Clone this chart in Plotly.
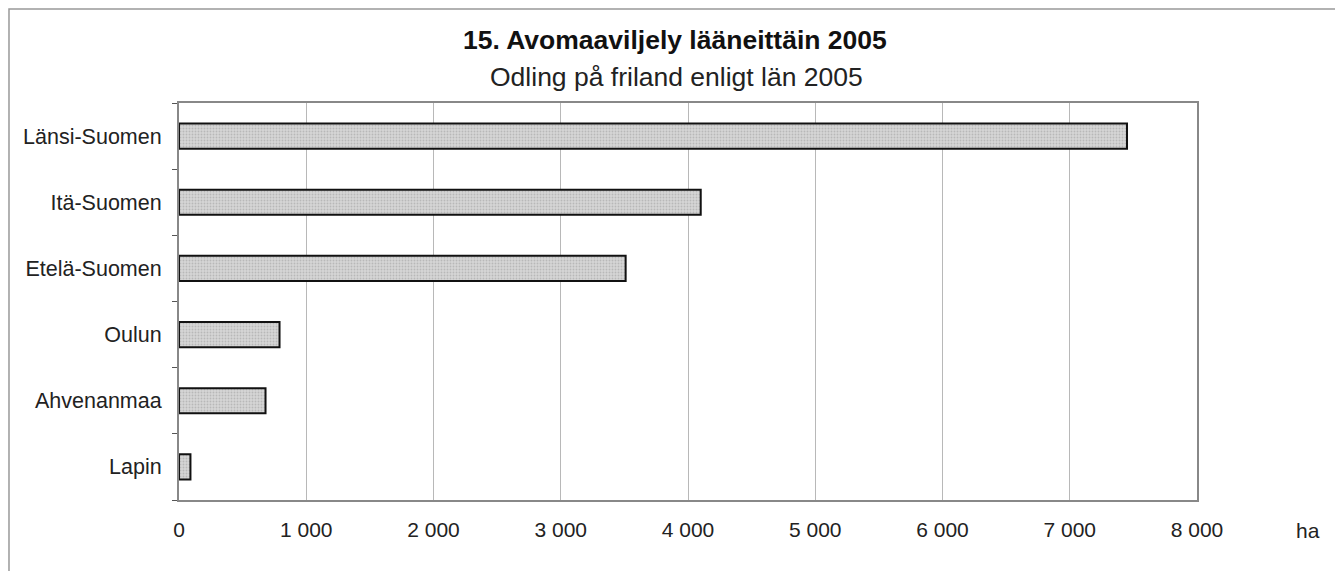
import plotly.graph_objects as go

categories = ["Länsi-Suomen", "Itä-Suomen", "Etelä-Suomen", "Oulun", "Ahvenanmaa", "Lapin"]
values = [7450, 4100, 3510, 790, 680, 90]
x_ticks = [0, 1000, 2000, 3000, 4000, 5000, 6000, 7000, 8000]
x_tick_labels = ["0", "1 000", "2 000", "3 000", "4 000", "5 000", "6 000", "7 000", "8 000"]

FONT = "Liberation Sans, Arial, sans-serif"

fig = go.Figure(go.Bar(
    x=values, y=categories, orientation="h", width=0.38,
    marker=dict(color="#cdcdcd", line=dict(color="#111111", width=2),
                pattern=dict(shape=".", fgcolor="#9a9a9a", bgcolor="#d6d6d6", size=3, solidity=0.3)),
))

fig.update_layout(
    width=1335, height=563,
    margin=dict(l=171, r=146, t=95, b=71),
    paper_bgcolor="white", plot_bgcolor="white",
    font=dict(family=FONT, size=21, color="#222222"),
    showlegend=False,
    xaxis=dict(range=[0, 8000], tickvals=x_ticks, ticktext=x_tick_labels,
               showgrid=True, gridcolor="#b8b8b8", gridwidth=1,
               showline=True, linecolor="#888888", linewidth=2, mirror=True,
               ticks="", zeroline=False, tickfont=dict(size=21, color="#222222"),
               ticklabelstandoff=10, fixedrange=True),
    yaxis=dict(categoryorder="array", categoryarray=categories[::-1],
               tickson="boundaries", ticks="outside", ticklen=5, tickcolor="#555555",
               showgrid=False, showline=True, linecolor="#888888", linewidth=2, mirror=True,
               tickfont=dict(size=21.5, color="#222222"), ticklabelstandoff=11, fixedrange=True),
    annotations=[
        dict(text="<b>15. Avomaaviljely lääneittäin 2005</b>", xref="paper", yref="paper",
             x=0.487, y=1.159, xanchor="center", yanchor="middle", showarrow=False,
             font=dict(size=26.5, color="#111111", family=FONT)),
        dict(text="Odling på friland enligt län 2005", xref="paper", yref="paper",
             x=0.489, y=1.066, xanchor="center", yanchor="middle", showarrow=False,
             font=dict(size=26.5, color="#222222", family=FONT)),
        dict(text="ha", xref="paper", yref="paper", x=1.109, y=-0.0756,
             xanchor="center", yanchor="middle", showarrow=False,
             font=dict(size=21, color="#222222", family=FONT)),
    ],
    shapes=[
        dict(type="rect", xref="paper", yref="paper", x0=-0.167, x1=1.1365, y0=-0.2, y1=1.2368,
             line=dict(color="#999999", width=1.5), fillcolor="rgba(0,0,0,0)", layer="below"),
    ],
)

fig.write_html("out.html")
